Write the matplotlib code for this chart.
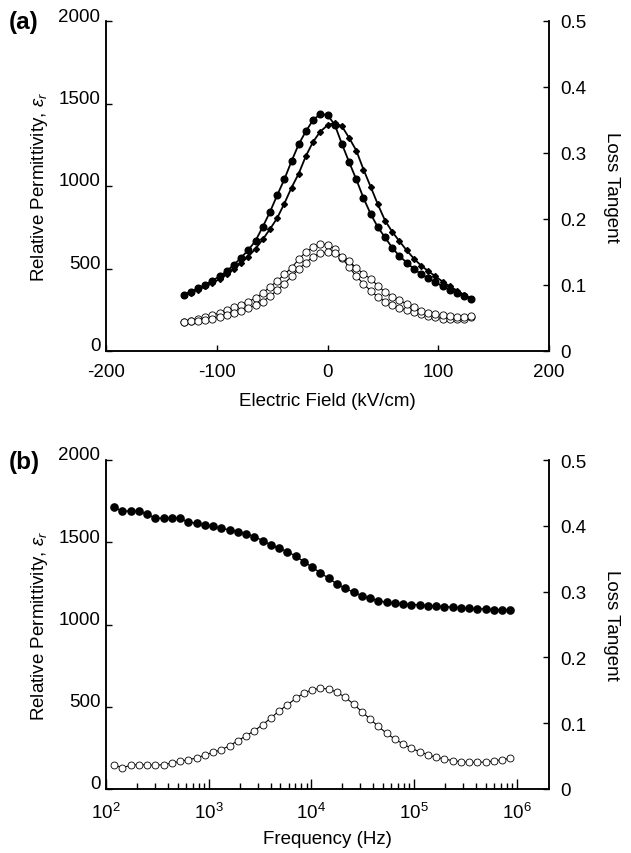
import matplotlib
matplotlib.use('Agg')
import matplotlib.pyplot as plt
from matplotlib.transforms import ScaledTranslation
from matplotlib.ticker import FixedLocator, NullFormatter

plt.rcParams['font.family'] = ['Liberation Sans', 'DejaVu Sans']
plt.rcParams['mathtext.fontset'] = 'custom'
plt.rcParams['mathtext.rm'] = 'Liberation Sans'
plt.rcParams['mathtext.it'] = 'Liberation Sans:italic'
plt.rcParams['axes.unicode_minus'] = False

# (a) field sweep, kV/cm
field = [-130, -123.5, -117, -110.5, -104, -97.5, -91, -84.5, -78, -71.5, -65,
         -58.5, -52, -45.5, -39, -32.5, -26, -19.5, -13, -6.5, 0, 6.5, 13, 19.5,
         26, 32.5, 39, 45.5, 52, 58.5, 65, 71.5, 78, 84.5, 91, 97.5, 104, 110.5,
         117, 123.5, 130]
perm_up = [340, 360, 379, 401, 426, 452, 484, 522, 566, 612, 668, 752, 842, 943,
           1040, 1150, 1253, 1332, 1400, 1436, 1430, 1372, 1255, 1145, 1040, 927,
           830, 750, 688, 625, 575, 536, 498, 466, 440, 417, 392, 371, 354, 333, 316]
perm_down = [338, 354, 372, 391, 412, 436, 464, 496, 534, 572, 620, 676, 738, 805,
             893, 990, 1075, 1182, 1268, 1330, 1368, 1384, 1362, 1292, 1215, 1100,
             995, 888, 790, 722, 665, 610, 560, 518, 484, 452, 420, 392, 366, 340, 318]
loss_up = [0.044, 0.046, 0.048, 0.051, 0.054, 0.058, 0.062, 0.066, 0.070, 0.075,
           0.080, 0.088, 0.097, 0.106, 0.116, 0.126, 0.139, 0.150, 0.157, 0.162,
           0.161, 0.155, 0.141, 0.127, 0.113, 0.102, 0.091, 0.082, 0.075, 0.069,
           0.065, 0.062, 0.059, 0.056, 0.053, 0.051, 0.049, 0.048, 0.048, 0.049, 0.052]
loss_down = [0.044, 0.045, 0.046, 0.047, 0.049, 0.051, 0.054, 0.057, 0.061, 0.065,
             0.070, 0.075, 0.083, 0.092, 0.102, 0.113, 0.124, 0.134, 0.143, 0.148,
             0.150, 0.149, 0.143, 0.136, 0.126, 0.117, 0.109, 0.099, 0.089, 0.082,
             0.077, 0.071, 0.066, 0.061, 0.058, 0.056, 0.054, 0.053, 0.052, 0.052, 0.053]

# (b) frequency sweep, Hz
freq = [120, 144, 174, 209, 252, 303, 364, 438, 528, 635, 764, 919, 1106, 1331,
        1602, 1927, 2319, 2791, 3358, 4041, 4862, 5851, 7040, 8472, 10195, 12267,
        14761, 17762, 21374, 25720, 30949, 37241, 44813, 53924, 64888, 78081,
        93956, 113058, 136045, 163705, 196989, 237037, 285228, 343218, 413000,
        497000, 598000, 719500, 865800]
perm_f = [1712, 1690, 1690, 1690, 1670, 1646, 1646, 1646, 1646, 1621, 1617, 1607,
          1597, 1585, 1575, 1565, 1550, 1534, 1510, 1484, 1463, 1443, 1415, 1382,
          1348, 1313, 1281, 1246, 1220, 1196, 1175, 1159, 1145, 1135, 1131, 1125,
          1121, 1119, 1115, 1111, 1109, 1105, 1102, 1098, 1096, 1094, 1090, 1088, 1086]
loss_f = [0.0365, 0.0324, 0.036, 0.037, 0.0365, 0.036, 0.037, 0.0395, 0.042,
          0.0446, 0.0471, 0.0517, 0.0557, 0.0598, 0.0659, 0.0735, 0.081, 0.0887,
          0.0978, 0.108, 0.119, 0.1277, 0.1378, 0.1459, 0.151, 0.153, 0.152, 0.147,
          0.1393, 0.1292, 0.1175, 0.1064, 0.0952, 0.0846, 0.076, 0.0684, 0.0618,
          0.0567, 0.0522, 0.0481, 0.0456, 0.0431, 0.0415, 0.0405, 0.0405, 0.041,
          0.0426, 0.0446, 0.0466]

FS = 13.5
W, H = 631, 854
fig = plt.figure(figsize=(W / 100, H / 100), dpi=100)


def px_axes(x0, y0, x1, y1):
    return fig.add_axes([x0 / W, 1 - y1 / H, (x1 - x0) / W, (y1 - y0) / H])


def style(ax, ax2):
    for a in (ax, ax2):
        a.spines['top'].set_visible(False)
        for s in ('left', 'right', 'bottom'):
            a.spines[s].set_linewidth(1.1)
        a.patch.set_visible(False)
    ax.tick_params(axis='y', direction='in', length=4, width=1, pad=4, labelsize=FS)
    ax.tick_params(axis='x', direction='in', length=4, width=1, pad=9, labelsize=FS)
    ax2.tick_params(axis='y', direction='in', length=4, width=1, pad=8, labelsize=FS)
    ax.set_ylim(0, 2000)
    ax.set_yticks([0, 500, 1000, 1500, 2000])
    ax2.set_ylim(0, 0.5)
    ax2.set_yticks([0, 0.1, 0.2, 0.3, 0.4, 0.5])
    ax2.set_yticklabels(['0', '0.1', '0.2', '0.3', '0.4', '0.5'])
    shift = ScaledTranslation(0, 7 / 100, fig.dpi_scale_trans)
    for lab in ax.get_yticklabels():
        lab.set_transform(lab.get_transform() + shift)
    ax.set_ylabel(r'Relative Permittivity, $\varepsilon_r$', fontsize=FS, labelpad=6)
    ax2.set_ylabel('Loss Tangent', fontsize=FS, rotation=270, labelpad=24)


# ---- panel (a)
ax = px_axes(106, 22, 549, 352)
ax2 = ax.twinx()
ax.plot(field, perm_up, '-o', color='k', lw=1.3, ms=4.8)
ax.plot(field, perm_down, '-D', color='k', lw=1.3, ms=3.0)
ax2.plot(field, loss_up, '-o', color='k', lw=0.8, ms=5.2, mfc='white', mew=0.6)
ax2.plot(field, loss_down, '-o', color='k', lw=0.8, ms=5.2, mfc='white', mew=0.6)
ax.set_xlim(-200, 200)
ax.set_xticks([-200, -100, 0, 100, 200])
style(ax, ax2)
ax.set_xlabel('Electric Field (kV/cm)', fontsize=FS, labelpad=8)
fig.text(9 / W, 1 - 22 / H, '(a)', fontsize=17.5, fontweight='bold', va='center')

# ---- panel (b)
bx = px_axes(106, 461, 549, 790)
bx2 = bx.twinx()
bx.plot(freq, perm_f, '-o', color='k', lw=1.0, ms=5.2)
bx2.plot(freq, loss_f, '-o', color='k', lw=0.8, ms=5.0, mfc='white', mew=0.6)
bx.set_xscale('log')
bx.set_xlim(100, 2.06e6)
bx.set_xticks([1e2, 1e3, 1e4, 1e5, 1e6])
bx.set_xticklabels([r'$10^{2}$', r'$10^{3}$', r'$10^{4}$', r'$10^{5}$', r'$10^{6}$'])
minors = [m * 10 ** e for e in range(2, 6) for m in range(2, 10)]
bx.xaxis.set_minor_locator(FixedLocator(minors))
bx.xaxis.set_minor_formatter(NullFormatter())
style(bx, bx2)
bx.tick_params(axis='x', which='major', length=7)
bx.tick_params(axis='x', which='minor', direction='in', length=4, width=1)
bx.set_xlabel('Frequency (Hz)', fontsize=FS, labelpad=6)
fig.text(9 / W, 1 - 463 / H, '(b)', fontsize=17.5, fontweight='bold', va='center')

fig.savefig('out.png', dpi=100)
